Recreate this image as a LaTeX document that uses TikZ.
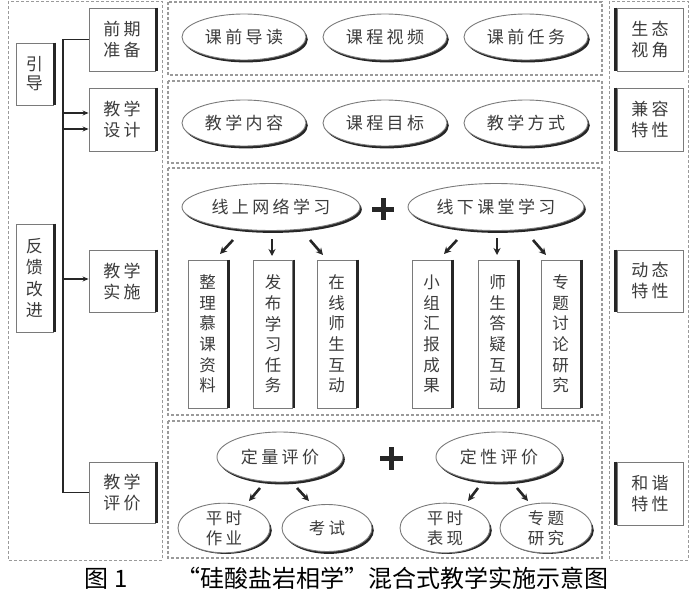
\documentclass[tikz,border=0pt]{standalone}
\usepackage{fontspec}
\newfontfamily\cjk{Noto Sans CJK SC}
\newfontfamily\cjksp[LetterSpace=20]{Noto Sans CJK SC}
\usetikzlibrary{arrows.meta,calc,shapes.geometric}
\definecolor{txt}{HTML}{3C3C3C}
\definecolor{ink}{HTML}{262626}
\definecolor{frm}{HTML}{9A9A9A}
\definecolor{bdr}{HTML}{7A7A7A}
% oval with drop shadow: name, x, y, width, height, font, text
\newcommand\myoval[7]{%
  \fill[ink] (#2+1.8,#3+2.4) ellipse [x radius=#4/2, y radius=#5/2];
  \node[oval, minimum width=#4pt, minimum height=#5pt, font=#6] (#1) at (#2,#3) {#7};}
\begin{document}
\begin{tikzpicture}[x=1pt,y=-1pt,
  frame/.style={draw=frm, line width=1pt, dash pattern=on 3pt off 2pt},
  secframe/.style={draw=frm, line width=1.6pt, dash pattern=on 3pt off 2pt},
  sbox/.style={draw=bdr, line width=0.9pt, fill=white, text=txt, align=center, inner sep=0pt},
  hbox/.style={sbox, minimum width=66pt, font=\cjksp\fontsize{17}{21}\selectfont},
  vbox/.style={sbox, minimum width=39pt, minimum height=148pt, font=\cjk\fontsize{16.5}{20.6}\selectfont},
  edge/.style={draw=ink, line width=2.6pt},
  oval/.style={ellipse, draw=bdr, line width=0.9pt, fill=white, text=txt, inner sep=0pt, align=center},
  conn/.style={draw=ink, line width=1.5pt},
  tip/.style={-{Stealth[length=6pt,width=5pt]}},
  fat/.style={draw=ink, line width=2.6pt, -{Stealth[length=7pt,width=7pt]}},
  plusmark/.style={draw=ink, line width=5pt},
]
\useasboundingbox (0,0) rectangle (697,597);

% frames
\draw[frame] (8,1) rectangle (162,560);
\draw[frame] (609,1) rectangle (688,560);
\draw[secframe] (168,2) rectangle (602,75);
\draw[secframe] (168,81) rectangle (602,163);
\draw[secframe] (168,168) rectangle (602,415);
\draw[secframe] (168,421) rectangle (602,558);

% left column
\node[sbox, minimum width=37pt, minimum height=62pt, font=\cjk\fontsize{17}{19}\selectfont] (yd) at (34.5,74) {引\\导};
\node[sbox, minimum width=37pt, minimum height=108pt, font=\cjk\fontsize{17}{21.5}\selectfont] (fk) at (34.5,278) {反\\馈\\改\\进};
\node[hbox, minimum height=63pt] (qq) at (122,39.5) {前期\\准备};
\node[hbox, minimum height=63pt] (sj) at (122,119.5) {教学\\设计};
\node[hbox, minimum height=62pt] (ss) at (122,281) {教学\\实施};
\node[hbox, minimum height=61pt] (pj) at (122,492.5) {教学\\评价};
\foreach \n in {yd,fk,qq,sj,ss,pj}
  \draw[edge] ([xshift=0.9pt]\n.north east) -- ([xshift=0.9pt]\n.south east);

% right column
\node[hbox, minimum height=63pt] (st) at (650,39.5) {生态\\视角};
\node[hbox, minimum height=63pt] (jr) at (650,119.5) {兼容\\特性};
\node[hbox, minimum height=62pt] (dt) at (650,281) {动态\\特性};
\node[hbox, minimum height=63pt] (hx) at (650,493.5) {和谐\\特性};
\foreach \n in {st,jr,dt,hx}
  \draw[edge] ([xshift=-0.9pt]\n.north west) -- ([xshift=-0.9pt]\n.south west);

% brackets
\draw[conn, tip] (qq.west) -- (63,39.5) |- ([yshift=-9.5pt]sj.west);
\draw[conn, tip] (pj.west) -- (63,492.5) |- ([yshift=6.5pt]sj.west);
\draw[conn, tip] (63,279) -- ([yshift=2pt]ss.west);

% section 1
\myoval{kq}{244}{37}{124}{46}{\cjksp\fontsize{17}{20}\selectfont}{课前导读}
\myoval{kc}{385}{37}{124}{46}{\cjksp\fontsize{17}{20}\selectfont}{课程视频}
\myoval{rw}{526}{37}{124}{46}{\cjksp\fontsize{17}{20}\selectfont}{课前任务}

% section 2
\myoval{nr}{244}{123}{124}{46}{\cjksp\fontsize{17}{20}\selectfont}{教学内容}
\myoval{mb}{385}{123}{124}{46}{\cjksp\fontsize{17}{20}\selectfont}{课程目标}
\myoval{fs}{526}{123}{124}{46}{\cjksp\fontsize{17}{20}\selectfont}{教学方式}

% section 3
\myoval{on}{271}{207}{178}{47}{\cjksp\fontsize{17}{20}\selectfont}{线上网络学习}
\myoval{off}{496}{207}{176}{47}{\cjksp\fontsize{17}{20}\selectfont}{线下课堂学习}
\draw[plusmark] (372,209) -- (394,209) (383,198) -- (383,220);

\node[vbox] (b1) at (207.5,334) {整\\理\\慕\\课\\资\\料};
\node[vbox] (b2) at (273,334) {发\\布\\学\\习\\任\\务};
\node[vbox] (b3) at (336.5,334) {在\\线\\师\\生\\互\\动};
\node[vbox] (b4) at (431.5,334) {小\\组\\汇\\报\\成\\果};
\node[vbox] (b5) at (497.5,334) {师\\生\\答\\疑\\互\\动};
\node[vbox] (b6) at (560.5,334) {专\\题\\讨\\论\\研\\究};
\foreach \n in {b1,b2,b3,b4,b5,b6}
  \draw[edge] ([xshift=0.9pt]\n.north east) -- ([xshift=0.9pt]\n.south east);

\draw[fat] ($(on.center)+(-38,33)$) -- ++(-13,14);
\draw[fat] ($(on.center)+(1,32)$) -- ++(0,17);
\draw[fat] ($(on.center)+(39,33)$) -- ++(13,15);
\draw[fat] ($(off.center)+(-39,33)$) -- ++(-13,14);
\draw[fat] ($(off.center)+(1,31)$) -- ++(0,17);
\draw[fat] ($(off.center)+(37,33)$) -- ++(13,15);

% section 4
\myoval{dl}{280}{457}{126}{50}{\cjksp\fontsize{17}{20}\selectfont}{定量评价}
\myoval{dx}{499}{457}{126}{50}{\cjksp\fontsize{17}{20}\selectfont}{定性评价}
\draw[plusmark] (380,458.5) -- (403,458.5) (391.5,447) -- (391.5,470);

\myoval{zy}{224}{528}{92}{47}{\cjksp\fontsize{16.5}{20}\selectfont}{平时\\作业}
\myoval{ks}{327}{528}{90}{47}{\cjksp\fontsize{16.5}{20}\selectfont}{考试}
\myoval{bx}{445}{528}{90}{47}{\cjksp\fontsize{16.5}{20}\selectfont}{平时\\表现}
\myoval{yj}{546}{528}{92}{47}{\cjksp\fontsize{16.5}{20}\selectfont}{专题\\研究}

\draw[fat] ($(dl.center)+(-20,31)$) -- ++(-11,13);
\draw[fat] ($(dl.center)+(17,31)$) -- ++(12,13);
\draw[fat] ($(dx.center)+(-21,31)$) -- ++(-10,13);
\draw[fat] ($(dx.center)+(18,31)$) -- ++(11,13);

% caption
\node[font=\cjk\fontsize{24}{24}\selectfont, text=black, anchor=west, inner sep=0pt] (cap) at (84,578) {图\hspace{0.25em}1\hspace{2.05em}“硅酸盐岩相学”混合式教学实施示意图};
\end{tikzpicture}
\end{document}
